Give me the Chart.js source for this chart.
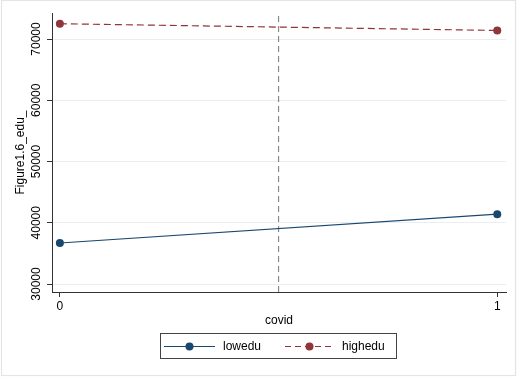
<!DOCTYPE html>
<html>
<head>
<meta charset="utf-8">
<script src="https://cdn.jsdelivr.net/npm/chart.js@4.4.0/dist/chart.umd.min.js"></script>
<style>
  html, body { margin: 0; padding: 0; background: #fff; }
  #wrap { width: 519px; height: 377px; }
</style>
</head>
<body>
<div id="wrap"><canvas id="area" width="519" height="377"></canvas></div>
<script>
// data
var covid = [0, 1]
var lowedu = [36700, 41400]
var highedu = [72500, 71400]
var xline = 0.5
var yTicks = [30000, 40000, 50000, 60000, 70000]
var xTicks = [0, 1]
var yMin = 28700, yMax = 74250

var font = "'Liberation Sans', Arial, Helvetica, sans-serif"
var navy = '#1a476f'
var maroon = '#90353b'

// draws rotated y tick labels, axis titles, legend box
var stataText = {
  id: 'stataText',
  afterDraw: function (chart) {
    var ctx = chart.ctx
    var ys = chart.scales.y
    var xs = chart.scales.x
    ctx.save()
    ctx.fillStyle = '#000'
    ctx.font = '12px ' + font
    ctx.textAlign = 'center'
    ctx.textBaseline = 'middle'
    yTicks.forEach(function (v) {
      ctx.save()
      ctx.translate(37, ys.getPixelForValue(v))
      ctx.rotate(-Math.PI / 2)
      ctx.fillText(String(v), 0, 0)
      ctx.restore()
    })
    // y title
    ctx.save()
    ctx.translate(21, (chart.chartArea.top + chart.chartArea.bottom) / 2)
    ctx.rotate(-Math.PI / 2)
    ctx.fillText('Figure1.6_edu_', 0, 0)
    ctx.restore()
    // x title
    ctx.fillText('covid', (xs.left + xs.right) / 2, 321)

    // legend
    ctx.strokeStyle = '#444'
    ctx.lineWidth = 1
    ctx.strokeRect(160.5, 333.5, 236, 25)
    var items = [
      { label: 'lowedu', color: navy, dash: [], x0: 164, x1: 215, tx: 223 },
      { label: 'highedu', color: maroon, dash: [6, 4], x0: 285, x1: 334, tx: 342 }
    ]
    var ly = 346.5
    items.forEach(function (it) {
      ctx.strokeStyle = it.color
      ctx.lineWidth = 1.2
      ctx.setLineDash(it.dash)
      ctx.beginPath()
      ctx.moveTo(it.x0, ly)
      ctx.lineTo(it.x1, ly)
      ctx.stroke()
      ctx.setLineDash([])
      ctx.fillStyle = it.color
      ctx.beginPath()
      ctx.arc((it.x0 + it.x1) / 2, ly, 4, 0, Math.PI * 2)
      ctx.fill()
      ctx.fillStyle = '#000'
      ctx.textAlign = 'left'
      ctx.fillText(it.label, it.tx, ly)
    })
    // faint outer frame
    ctx.strokeStyle = '#e4e4e4'
    ctx.strokeRect(1.5, 0.5, 514, 375)
    ctx.restore()
  }
}

new Chart(document.getElementById('area'), {
  type: 'scatter',
  data: {
    datasets: [
      {
        label: 'xline',
        data: [{ x: xline, y: yMin }, { x: xline, y: yMax }],
        showLine: true,
        borderColor: '#8a8a8a',
        borderWidth: 1.2,
        borderDash: [6, 4],
        pointRadius: 0,
        order: 3
      },
      {
        label: 'lowedu',
        data: covid.map((c, i) => ({ x: c, y: lowedu[i] })),
        showLine: true,
        borderColor: navy,
        backgroundColor: navy,
        borderWidth: 1.2,
        pointRadius: 4,
        pointBorderWidth: 0,
        order: 1
      },
      {
        label: 'highedu',
        data: covid.map((c, i) => ({ x: c, y: highedu[i] })),
        showLine: true,
        borderColor: maroon,
        backgroundColor: maroon,
        borderWidth: 1.2,
        borderDash: [7, 4],
        pointRadius: 4,
        pointBorderWidth: 0,
        order: 2
      }
    ]
  },
  options: {
    responsive: false,
    animation: false,
    layout: { padding: { top: 13, right: 13, left: 0, bottom: 0 } },
    scales: {
      x: {
        type: 'linear',
        min: -0.018,
        max: 1.02,
        afterBuildTicks: s => { s.ticks = xTicks.map(v => ({ value: v })) },
        afterFit: s => { s.height = 85 },
        grid: { drawOnChartArea: false, tickLength: 5, color: '#333' },
        border: { color: '#333', width: 1 },
        ticks: { color: '#000', font: { family: font, size: 12 }, padding: 2, maxRotation: 0 }
      },
      y: {
        min: yMin,
        max: yMax,
        afterBuildTicks: s => { s.ticks = yTicks.map(v => ({ value: v })) },
        afterFit: s => { s.width = 52 },
        grid: {
          color: '#e9eef3',
          tickColor: '#333',
          tickLength: 5
        },
        border: { color: '#333', width: 1 },
        ticks: { display: false }
      }
    },
    plugins: {
      legend: false,
      tooltip: { enabled: false }
    }
  },
  plugins: [stataText]
})
</script>
</body>
</html>
